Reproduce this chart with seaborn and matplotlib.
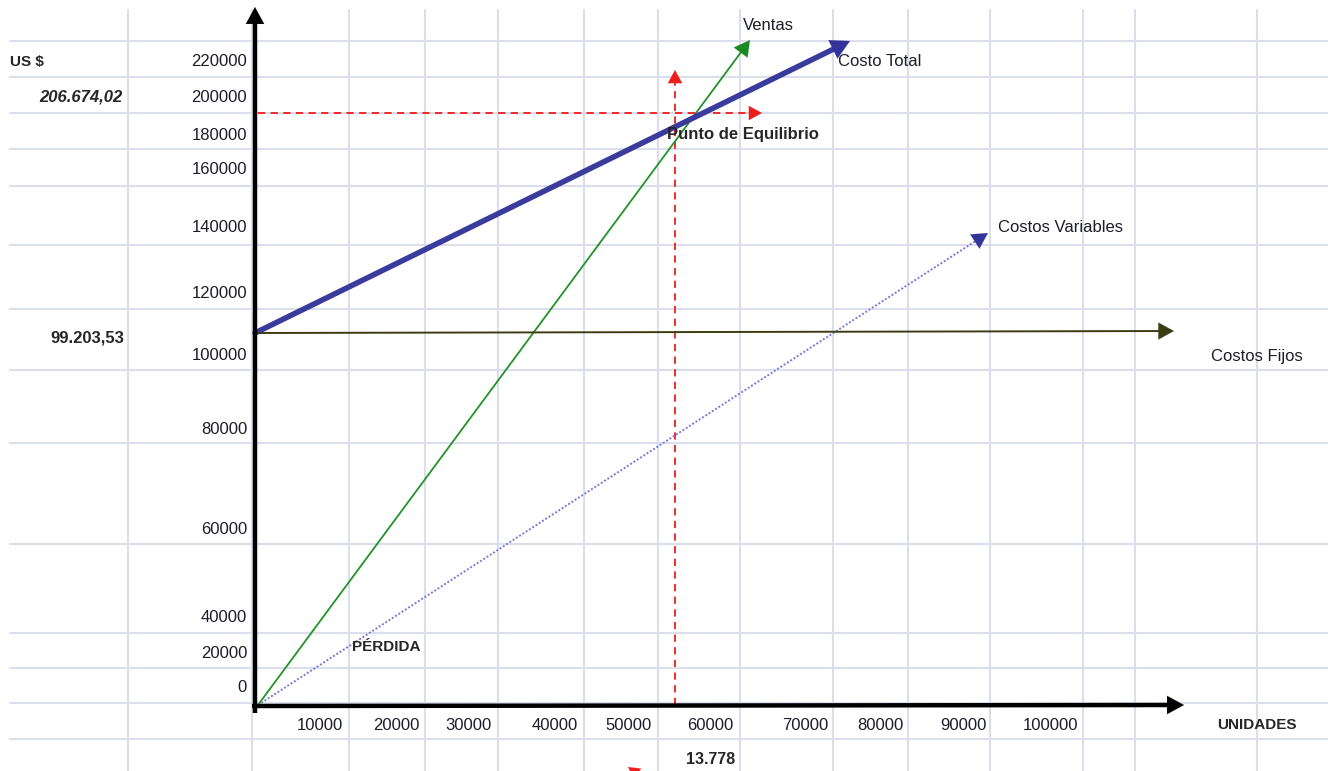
import matplotlib.pyplot as plt
import seaborn as sns
import pandas as pd

# === Data (sheet pixel coordinates, y grows down) ===
sheet_cols = [128, 252, 349, 425, 498, 584, 658, 740, 833, 908, 990, 1083, 1135, 1257]
sheet_rows = [41, 77, 113, 149, 186, 245, 309, 370, 443, 544, 633, 668, 703, 739]

y_tick_labels = ["220000", "200000", "180000", "160000", "140000", "120000",
                 "100000", "80000", "60000", "40000", "20000", "0"]
y_tick_rows = [62, 97, 135, 170, 227, 294, 355, 429, 530, 617, 654, 688]

x_tick_labels = ["10000", "20000", "30000", "40000", "50000", "60000",
                 "70000", "80000", "90000", "100000"]
x_tick_right = [343, 419, 492, 578, 652, 733, 828, 904, 987, 1078]

series = ["Ventas", "Costo Total", "Costos Variables", "Costos Fijos"]
start_x = [258, 255, 258, 258]
start_y = [705, 333, 705, 333]
end_x = [750, 850, 988, 1174]
end_y = [40, 41, 233, 331]

equilibrio_x = 675
equilibrio_y = 113
fijos_value = "99.203,53"
equilibrio_value = "206.674,02"
equilibrio_units = "13.778"

# === Styles ===
colors = {"Ventas": "#22922a", "Costo Total": "#3b3b9e",
          "Costos Variables": "#7a7ad4", "Costos Fijos": "#3c3c14"}
head_colors = {"Ventas": "#1a8a22", "Costo Total": "#33339a",
               "Costos Variables": "#33339a", "Costos Fijos": "#3c3c14"}
widths = {"Ventas": 1.3, "Costo Total": 4.0, "Costos Variables": 1.4, "Costos Fijos": 1.4}
styles = {"Ventas": "-", "Costo Total": "-", "Costos Variables": (0, (1, 1)), "Costos Fijos": "-"}
head_len = {"Ventas": 14, "Costo Total": 17, "Costos Variables": 14, "Costos Fijos": 14}


def arrow_head(ax, tip, back, color, scale):
    ax.annotate("", xy=tip, xytext=back,
                arrowprops=dict(arrowstyle="-|>,head_length=0.55,head_width=0.3", color=color, lw=0.1,
                                mutation_scale=scale, shrinkA=0, shrinkB=0), zorder=6)


sns.set_theme(style="white")
plt.rcParams["font.family"] = ["Liberation Sans", "DejaVu Sans"]

fig = plt.figure(figsize=(13.28, 7.71), dpi=100)
ax = fig.add_axes([0, 0, 1, 1])
ax.set_xlim(0, 1328)
ax.set_ylim(771, 0)
ax.axis("off")

# spreadsheet grid
for c in sheet_cols:
    ax.plot([c, c], [10, 771], color="#dadeed", lw=1.5, zorder=0)
for r in sheet_rows:
    ax.plot([10, 1328], [r, r], color="#dadeed", lw=1.5, zorder=0)

# cost / sales lines
lines = pd.DataFrame({"serie": series, "x0": start_x, "y0": start_y, "x1": end_x, "y1": end_y})
for _, row in lines.iterrows():
    name = row["serie"]
    dx, dy = row["x1"] - row["x0"], row["y1"] - row["y0"]
    n = (dx ** 2 + dy ** 2) ** 0.5
    hl = head_len[name]
    seg = pd.DataFrame({"x": [row["x0"], row["x1"] - 0.7 * hl * dx / n],
                        "y": [row["y0"], row["y1"] - 0.7 * hl * dy / n]})
    sns.lineplot(data=seg, x="x", y="y", ax=ax, color=colors[name], lw=widths[name],
                 linestyle=styles[name], sort=False, estimator=None, zorder=3)
    arrow_head(ax, (row["x1"], row["y1"]),
               (row["x1"] - 1.2 * hl * dx / n, row["y1"] - 1.2 * hl * dy / n),
               head_colors[name], hl * 1.45)

# break-even guides
red = "#ee1c1c"
ax.plot([equilibrio_x, equilibrio_x], [705, 82], color=red, lw=1.3, ls=(0, (4, 3)), zorder=2)
ax.plot([258, 750], [equilibrio_y, equilibrio_y], color=red, lw=1.3, ls=(0, (4, 3)), zorder=2)
arrow_head(ax, (equilibrio_x, 70), (equilibrio_x, 86), red, 17)
arrow_head(ax, (762, equilibrio_y), (746, equilibrio_y), red, 17)
arrow_head(ax, (628, 767), (642, 777), red, 15)

# axes arrows
ax.plot([255, 255], [713, 22], color="black", lw=3.2, zorder=5, solid_capstyle="butt")
ax.plot([252, 1170], [706, 705], color="black", lw=3.2, zorder=5, solid_capstyle="butt")
arrow_head(ax, (255, 7), (255, 28), "black", 22)
arrow_head(ax, (1184, 705), (1163, 705), "black", 22)

# tick labels
for lab, yy in zip(y_tick_labels, y_tick_rows):
    ax.text(247, yy, lab, ha="right", va="center", fontsize=12, color="#1c1c2a")
for lab, xx in zip(x_tick_labels, x_tick_right):
    ax.text(xx, 725, lab, ha="right", va="center", fontsize=12, color="#1c1c2a")

# annotations
ax.text(10, 62, "US $", ha="left", va="center", fontsize=11, fontweight="bold")
ax.text(123, 97, equilibrio_value, ha="right", va="center", fontsize=12, fontweight="bold", fontstyle="italic")
ax.text(124, 338, fijos_value, ha="right", va="center", fontsize=12, fontweight="bold")
ax.text(1297, 725, "UNIDADES", ha="right", va="center", fontsize=11, fontweight="bold")
ax.text(735, 760, equilibrio_units, ha="right", va="center", fontsize=11.5, fontweight="bold")
ax.text(352, 647, "PÉRDIDA", ha="left", va="center", fontsize=11, fontweight="bold")
ax.text(667, 134, "Punto de Equilibrio", ha="left", va="center", fontsize=12, fontweight="bold", zorder=7)
ax.text(743, 26, "Ventas", ha="left", va="center", fontsize=12, color="#1c1c2a")
ax.text(838, 62, "Costo Total", ha="left", va="center", fontsize=12, color="#1c1c2a")
ax.text(998, 228, "Costos Variables", ha="left", va="center", fontsize=12, color="#1c1c2a")
ax.text(1211, 356, "Costos Fijos", ha="left", va="center", fontsize=12, color="#1c1c2a")

fig.savefig("out.png", dpi=100)
plt.close(fig)
